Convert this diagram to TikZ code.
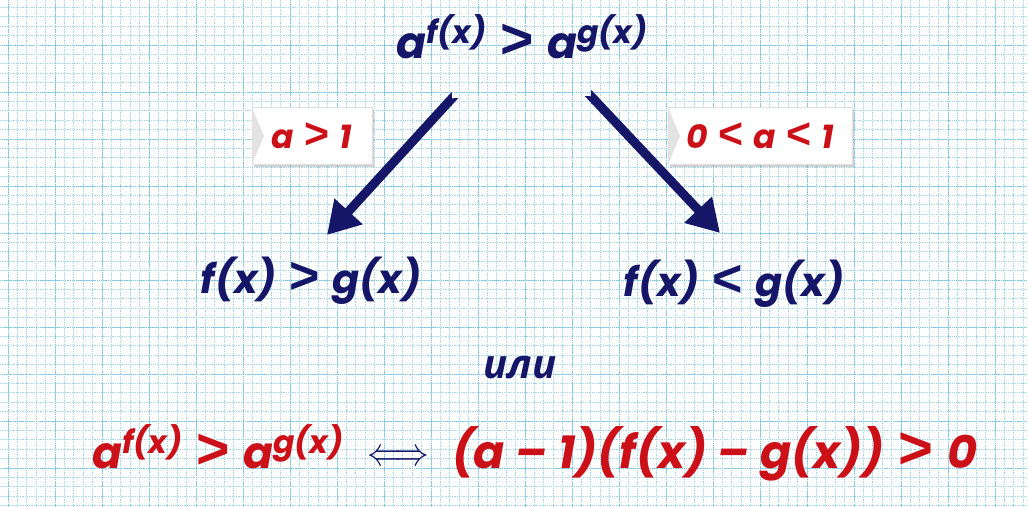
\documentclass[tikz,border=0pt]{standalone}
\usepackage{fontspec}
\usepackage{graphicx}
\setmainfont{Poppins}
\newfontfamily\cyrfont{Open Sans}
\newfontfamily\relfont{Liberation Sans}
\usetikzlibrary{arrows.meta,shadows}

\definecolor{inkblue}{RGB}{22,22,105}
\definecolor{inkred}{RGB}{204,16,24}
\definecolor{gridblue}{RGB}{160,214,236}
\definecolor{gridmajor}{RGB}{120,196,228}

% raised exponent, relation signs
\newcommand\pw[1]{\raisebox{.33em}{\scalebox{.72}{#1}}}
\newcommand\relgt{\hspace{.08em}{\relfont\upshape\bfseries\scalebox{1.3}{>}}\hspace{.08em}}
\newcommand\rellt{\hspace{.08em}{\relfont\upshape\bfseries\scalebox{1.3}{<}}\hspace{.08em}}

\begin{document}
\begin{tikzpicture}[
  x = 1pt,
  y = -1pt,
  formula/.style = {
    font = \fontsize{44}{50}\selectfont\bfseries\itshape,
    text = inkblue,
    inner sep = 0pt,
    anchor = base
  },
  cond/.style = {
    draw = gray!25,
    fill = white,
    drop shadow = {opacity = 0.35, shadow xshift = 2pt, shadow yshift = -2pt},
    minimum height = 57pt,
    text = inkred,
    font = \fontsize{33}{38}\selectfont\bfseries\itshape,
    path picture = {
      \fill[gray!22] (path picture bounding box.north west)
        -- ([xshift = 12pt]path picture bounding box.west)
        -- (path picture bounding box.south west) -- cycle;
    }
  },
  bigarrow/.style = {
    draw = inkblue,
    line width = 9pt,
    arrows = {Triangle Cap[reversed]-Triangle[length = 32pt, width = 36pt]}
  }
]
  % squared paper
  \useasboundingbox (0, 0) rectangle (1028, 506);
  \fill[white] (0, 0) rectangle (1028, 506);
  \foreach \k in {0, ..., 109}
    \draw[gridblue, densely dotted, line width = 0.8pt] (\k*9.4 + 8, 0) -- ++(0, 506);
  \foreach \k in {0, ..., 54}
    \draw[gridblue, densely dotted, line width = 0.8pt] (0, \k*9.4 - 2) -- ++(1028, 0);
  \foreach \k in {0, ..., 21}
    \draw[gridmajor, densely dotted, line width = 0.9pt] (\k*47 + 8, 0) -- ++(0, 506);
  \foreach \k in {0, ..., 10}
    \draw[gridmajor, densely dotted, line width = 0.9pt] (0, \k*47 - 2) -- ++(1028, 0);

  \node[formula] (top) at (522, 58) {a\pw{f(x)} \relgt{} a\pw{g(x)}};

  \node[cond, minimum width = 120pt] (lcase) at (312, 136) {a \relgt{} 1};
  \node[cond, minimum width = 184pt] (rcase) at (760, 136) {0 \rellt{} a \rellt{} 1};

  \node[formula, font = \fontsize{40}{46}\selectfont\bfseries\itshape] (lres) at (311, 293) {f(x) \relgt{} g(x)};
  \node[formula, font = \fontsize{40}{46}\selectfont\bfseries\itshape] (rres) at (734, 296) {f(x) \rellt{} g(x)};

  \coordinate (ltail) at (455, 95);
  \coordinate (lhead) at (327, 235);
  \coordinate (rtail) at (588, 93);
  \coordinate (rhead) at (720, 233);
  \draw[bigarrow] (ltail) -- (lhead);
  \draw[bigarrow] (rtail) -- (rhead);

  \node[formula, font = \fontsize{40}{44}\selectfont\cyrfont\bfseries\itshape] (orword) at (520, 378) {или};

  \node[formula, text = inkred] (eqleft) at (218, 468) {a\pw{f(x)} \relgt{} a\pw{g(x)}};
  \node[formula, anchor = center] (iffsign) at (398, 458) {\scalebox{1.35}[1.6]{$\Longleftrightarrow$}};
  \node[formula, text = inkred, font = \fontsize{46}{52}\selectfont\bfseries\itshape] (eqright) at (715, 468) {(a – 1)(f(x) – g(x)) \relgt{} 0};
\end{tikzpicture}
\end{document}
